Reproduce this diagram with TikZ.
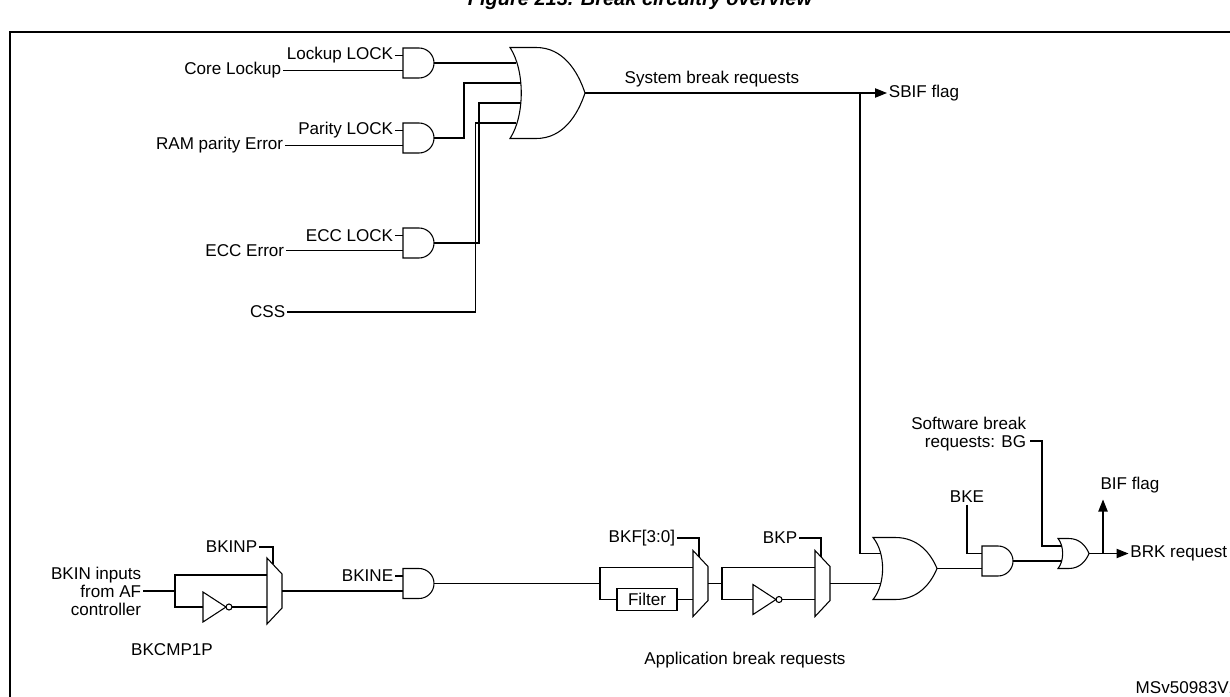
\documentclass[tikz,border=0pt]{standalone}
\usepackage{fontspec}
\setmainfont{Liberation Sans}
\usetikzlibrary{arrows.meta,positioning}

% multiplexer: name, x, y of output
\newcommand\muxblk[3]{%
  \draw (#2,#3-33) -- (#2+15,#3-17) -- (#2+15,#3+17) -- (#2,#3+33) -- cycle;
  \coordinate (#1-in1) at (#2,#3-16);
  \coordinate (#1-in2) at (#2,#3+16);
  \coordinate (#1-out) at (#2+15,#3);
  \coordinate (#1-sel) at (#2+6,#3-26.6);
}
% poarta AND: name, x, y
\newcommand\andgt[3]{%
  \draw (#2,#3-15) -- (#2+16,#3-15) arc(-90:90:15) -- (#2,#3+15) -- cycle;
  \coordinate (#1-in1) at (#2,#3-7.5);
  \coordinate (#1-in2) at (#2,#3+7.5);
  \coordinate (#1-out) at (#2+31,#3);
}
% poarta OR: name, x, y, w, h, sep, n
\newcommand\orgt[7]{%
  \draw (#2,#3-#5/2) -- (#2+0.35*#4,#3-#5/2)
    .. controls (#2+0.7*#4,#3-#5/2) and (#2+0.9*#4,#3-#5/4) .. (#2+#4,#3)
    .. controls (#2+0.9*#4,#3+#5/4) and (#2+0.7*#4,#3+#5/2) .. (#2+0.35*#4,#3+#5/2)
    -- (#2,#3+#5/2)
    .. controls (#2+0.2*#4,#3+#5/4) and (#2+0.2*#4,#3-#5/4) .. cycle;
  \foreach \k in {1,...,#7}{
    \pgfmathsetmacro\dy{(\k-(#7+1)/2)*#6}
    \pgfmathsetmacro\dx{0.15*#4*(1-(2*\dy/#5)^2)}
    \coordinate (#1-in\k) at (#2+\dx,#3+\dy);
  }
  \coordinate (#1-out) at (#2+#4,#3);
}
% inversor: name, x, y
\newcommand\invgt[3]{%
  \draw (#2,#3-15) -- (#2+23,#3) -- (#2,#3+15) -- cycle;
  \draw (#2+26,#3) circle (3);
  \coordinate (#1-in) at (#2,#3);
  \coordinate (#1-out) at (#2+29,#3);
}

\tikzset{
  lbl/.style={font=\fontsize{12.8}{13.5}\selectfont,inner sep=1pt},
  flag/.style={-{Triangle[length=9pt,width=7pt]}},
  every path/.style={line width=0.8pt}
}

\begin{document}
\begin{tikzpicture}[x=0.75pt,y=-0.75pt]
  \useasboundingbox (0,0) rectangle (1230,696);
  % cadru si titlu
  \node[font=\bfseries\itshape\fontsize{15}{17}\selectfont] (title) at (640,0) {Figure 213. Break circuitry overview};
  \draw[line width=1.3pt] (10,32) rectangle (1245,712);

  % porti sistem
  \andgt{andL}{403}{63}
  \andgt{andP}{403}{138}
  \andgt{andE}{403}{243}
  \orgt{bigor}{510}{93}{75}{91}{20}{4}

  \node[lbl,left=6pt of andL-in1] (lockL) {Lockup LOCK};
  \node[lbl,left=6pt of andP-in1] (parL) {Parity LOCK};
  \node[lbl,left=6pt of andE-in1] (eccL) {ECC LOCK};
  \path (andL-in2) ++(-120,0) node[lbl,anchor=east] (core) {Core Lockup};
  \path (andP-in2) ++(-118,0) node[lbl,anchor=east] (ram) {RAM parity Error};
  \path (andE-in2) ++(-117,0) node[lbl,anchor=east] (eccE) {ECC Error};
  \node[lbl,anchor=east] (css) at (287,312) {CSS};

  \draw (lockL) -- (andL-in1);
  \draw (parL) -- (andP-in1);
  \draw (eccL) -- (andE-in1);
  \draw (core) -- (andL-in2);
  \draw (ram) -- (andP-in2);
  \draw (eccE) -- (andE-in2);
  \draw (andL-out) -- (bigor-in1);
  \draw (andP-out) -- ++(30,0) |- (bigor-in2);
  \draw (andE-out) -- ++(45,0) |- (bigor-in3);
  \draw (css) -- ++(208,0) |- (bigor-in4);

  \node[lbl,anchor=west] (sbif) at (887,93) {SBIF flag};
  \node[lbl] (sysreq) at (712,79) {System break requests};
  \draw[flag] (bigor-out) -- (sbif.west);
  \coordinate (br) at (860,93);

  % cale aplicatie
  \node[lbl,anchor=east,align=right] (bkin) at (143,591) {BKIN inputs\\from AF\\controller};
  \coordinate (s1) at (175,591);
  \invgt{inv1}{203}{607}
  \muxblk{m1}{267}{591}
  \node[lbl,anchor=east] (bkinp) at (259,547) {BKINP};
  \draw (bkin) -- (s1) |- (m1-in1);
  \draw (s1) |- (inv1-in);
  \draw (inv1-out) -- (m1-in2);
  \draw (bkinp.east) -| (m1-sel);
  \node[lbl] (bkcmp) at (172,650) {BKCMP1P};

  \andgt{andB}{403}{583.5}
  \node[lbl,left=6pt of andB-in1] (bkine) {BKINE};
  \draw (bkine) -- (andB-in1);
  \draw (m1-out) -- (andB-in2);

  \coordinate (s2) at (600,583.5);
  \node[draw,lbl,minimum width=45pt,minimum height=16pt] (filt) at (647,599.5) {Filter};
  \muxblk{m2}{693}{583.5}
  \node[lbl,anchor=east] (bkf) at (677,538) {BKF[3:0]};
  \draw (andB-out) -- (s2) |- (m2-in1);
  \draw (s2) |- (filt.west);
  \draw (filt.east) -- (m2-in2);
  \draw (bkf.east) -| (m2-sel);

  \coordinate (s3) at (722,583.5);
  \invgt{inv2}{753}{599.5}
  \muxblk{m3}{815}{583.5}
  \node[lbl,anchor=east] (bkp) at (799,538) {BKP};
  \draw (m2-out) -- (s3) |- (m3-in1);
  \draw (s3) |- (inv2-in);
  \draw (inv2-out) -- (m3-in2);
  \draw (bkp.east) -| (m3-sel);
  \node[lbl] (appreq) at (745,660) {Application break requests};

  % iesire
  \orgt{lor}{873}{568.5}{64}{62}{30}{2}
  \draw (br) |- (lor-in1);
  \draw (m3-out) -- (lor-in2);

  \andgt{bke}{982}{561}
  \node[lbl] (bkeL) at (967,497) {BKE};
  \draw (bkeL.south) |- (bke-in1);
  \draw (lor-out) -- (bke-in2);

  \orgt{sor}{1058}{553.5}{31}{30}{15}{2}
  \node[lbl,anchor=east,align=right] (sw) at (1028,434) {Software break\\requests: BG};
  \coordinate (swe) at (1030,441);
  \draw (swe) -- ++(12,0) |- (sor-in1);
  \draw (bke-out) -- (sor-in2);

  \node[lbl,anchor=east] (brk) at (1229,553.5) {BRK request};
  \node[lbl] (bif) at (1130,485) {BIF flag};
  \coordinate (bb) at (1103,553.5);
  \draw[flag] (sor-out) -- (brk.west);
  \draw[flag] (bb) -- ++(0,-54);

  \node[lbl,anchor=east] (ms) at (1240,688) {MSv50983V1};
\end{tikzpicture}
\end{document}
